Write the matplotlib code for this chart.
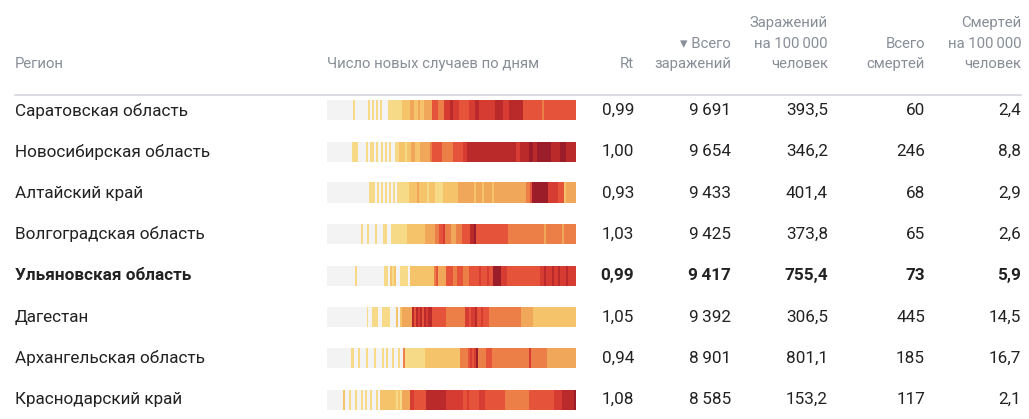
import numpy as np
import matplotlib.pyplot as plt
from matplotlib.colors import ListedColormap

plt.rcParams['font.family'] = ['Roboto', 'DejaVu Sans']

regions = ["Саратовская область", "Новосибирская область", "Алтайский край",
           "Волгоградская область", "Ульяновская область", "Дагестан",
           "Архангельская область", "Краснодарский край"]
rt = ["0,99", "1,00", "0,93", "1,03", "0,99", "1,05", "0,94", "1,08"]
cases = ["9\u2009691", "9\u2009654", "9\u2009433", "9\u2009425", "9\u2009417", "9\u2009392", "8\u2009901", "8\u2009585"]
cases_100k = ["393,5", "346,2", "401,4", "373,8", "755,4", "306,5", "801,1", "153,2"]
deaths = ["60", "246", "68", "65", "73", "445", "185", "117"]
deaths_100k = ["2,4", "8,8", "2,9", "2,6", "5,9", "14,5", "16,7", "2,1"]
highlight = "Ульяновская область"

# daily new-case intensity, run-length encoded as (days, level)
saratov = [(13,0),(1,1),(7,0),(1,1),(1,0),(1,1),(1,0),(1,1),(1,0),(1,1),(3,0),(7,1),(4,2),(2,3),(2,2),(1,3),(2,2),
           (4,3),(3,5),(3,4),(3,6),(2,7),(3,6),(5,5),(3,6),(2,7),(8,6),(4,7),(3,6),(7,7),(10,5),(1,4),(16,5)]
novosib = [(12,0),(3,1),(4,0),(1,1),(1,0),(2,1),(1,0),(1,1),(1,0),(1,1),(1,0),(1,1),(1,0),(1,1),(2,0),(2,1),(3,2),
           (1,1),(2,2),(2,3),(2,2),(3,3),(2,3),(1,4),(5,5),(1,4),(4,4),(5,5),(2,6),(24,7),(2,6),(4,7),(2,8),(2,7),
           (7,8),(4,7),(3,8),(5,7)]
altai = [(21,0),(3,1),(1,0),(1,1),(1,0),(1,1),(1,0),(1,1),(1,0),(1,1),(1,0),(1,1),(1,0),(6,1),(4,2),(1,3),(4,2),
         (1,1),(3,2),(4,1),(8,2),(8,3),(1,2),(3,3),(1,2),(4,3),(1,2),(16,3),(2,4),(1,5),(8,8),(5,6),(3,5),(1,2),(5,3)]
volgograd = [(17,0),(1,1),(2,0),(1,1),(3,0),(1,1),(3,0),(2,1),(2,0),(8,1),(2,2),(7,2),(5,3),(2,4),(2,5),(1,6),(3,4),
             (3,3),(3,4),(4,5),(2,7),(1,8),(16,5),(4,4),(14,4),(1,3),(8,4),(1,3),(6,4)]
ulyanovsk = [(14,0),(1,1),(13,0),(2,1),(1,0),(1,2),(1,1),(1,2),(2,0),(4,1),(1,0),(12,2),(1,4),(1,5),(4,3),(3,5),
             (2,4),(3,5),(3,4),(5,5),(1,6),(3,5),(1,6),(2,5),(4,8),(3,6),(16,5),(2,6),(1,7),(3,6),(1,7),(2,6),(1,7),
             (3,6),(1,7),(4,6)]
dagestan = [(20,0),(1,1),(2,0),(3,1),(2,0),(4,1),(3,0),(1,2),(1,0),(1,2),(5,3),(1,7),(1,5),(1,7),(1,6),(1,7),(1,5),
            (1,7),(1,6),(2,7),(1,5),(6,5),(10,4),(2,6),(1,5),(2,6),(1,7),(2,5),(1,6),(3,5),(16,4),(6,3),(22,2)]
arkhangelsk = [(12,0),(1,1),(2,0),(1,1),(3,0),(1,1),(3,0),(1,1),(3,0),(1,1),(1,0),(1,1),(2,0),(1,1),(2,0),(1,1),
               (1,0),(1,4),(10,1),(17,2),(4,4),(1,5),(1,6),(1,5),(1,6),(1,8),(4,4),(3,5),(18,4),(1,6),(5,4),(3,4),
               (3,3),(11,3)]
krasnodar = [(8,0),(1,2),(2,0),(1,1),(2,0),(1,1),(2,0),(1,1),(1,0),(1,1),(1,0),(1,1),(2,0),(1,1),(1,0),(8,2),(1,1),
             (1,2),(1,1),(4,3),(2,6),(6,5),(10,7),(8,6),(2,5),(1,6),(5,5),(3,6),(10,5),(12,4),(12,5),(4,6),(6,7),(1,8)]
strips = [saratov, novosib, altai, volgograd, ulyanovsk, dagestan, arkhangelsk, krasnodar]

level_colors = ['#f3f3f3', '#f7da87', '#f4c36a', '#f0a75a', '#ec7f47', '#e5533a', '#d63c31', '#bb2a2b', '#9c1d2a']
cmap = ListedColormap(level_colors)

W, H = 1029, 419
fig = plt.figure(figsize=(W/100, H/100), dpi=100)
ax = fig.add_axes([0, 0, 1, 1])
ax.set_xlim(0, W)
ax.set_ylim(H, 0)
ax.axis('off')

hc = '#888e97'
hs = 10.7
rs = 12.3
ax.text(15, 64, "Регион", color=hc, fontsize=hs, va='center')
ax.text(327, 64, "Число новых случаев по дням", color=hc, fontsize=hs, va='center')
cols_x = [634, 731, 828, 925, 1021]
headers = [["Rt"], ["\u25be Всего", "заражений"], ["Заражений", "на 100\u2009000", "человек"],
           ["Всего", "смертей"], ["Смертей", "на 100\u2009000", "человек"]]
for x, lines in zip(cols_x, headers):
    for k, line in enumerate(reversed(lines)):
        ax.text(x, 64 - 20.5*k, line, color=hc, fontsize=hs, va='center', ha='right')
ax.plot([15, 1021], [95, 95], color='#d3d6db', lw=1.2)

y0, dy = 110.5, 41.3
for i, name in enumerate(regions):
    y = y0 + dy*i
    fw = 'bold' if name == highlight else 'normal'
    ax.text(15, y, name, color='#222222', fontsize=rs, va='center', fontweight=fw)
    vals = [rt[i], cases[i], cases_100k[i], deaths[i], deaths_100k[i]]
    for x, v in zip(cols_x, vals):
        ax.text(x, y, v, color='#222222', fontsize=rs, va='center', ha='right', fontweight=fw)
    days = np.concatenate([[lvl]*n for n, lvl in strips[i]])
    ax.imshow(days[np.newaxis, :], cmap=cmap, vmin=-0.5, vmax=8.5, aspect='auto',
              interpolation='nearest', extent=[327, 576, y + 10, y - 10])

ax.set_xlim(0, W)
ax.set_ylim(H, 0)
fig.savefig('out.png', dpi=100)
